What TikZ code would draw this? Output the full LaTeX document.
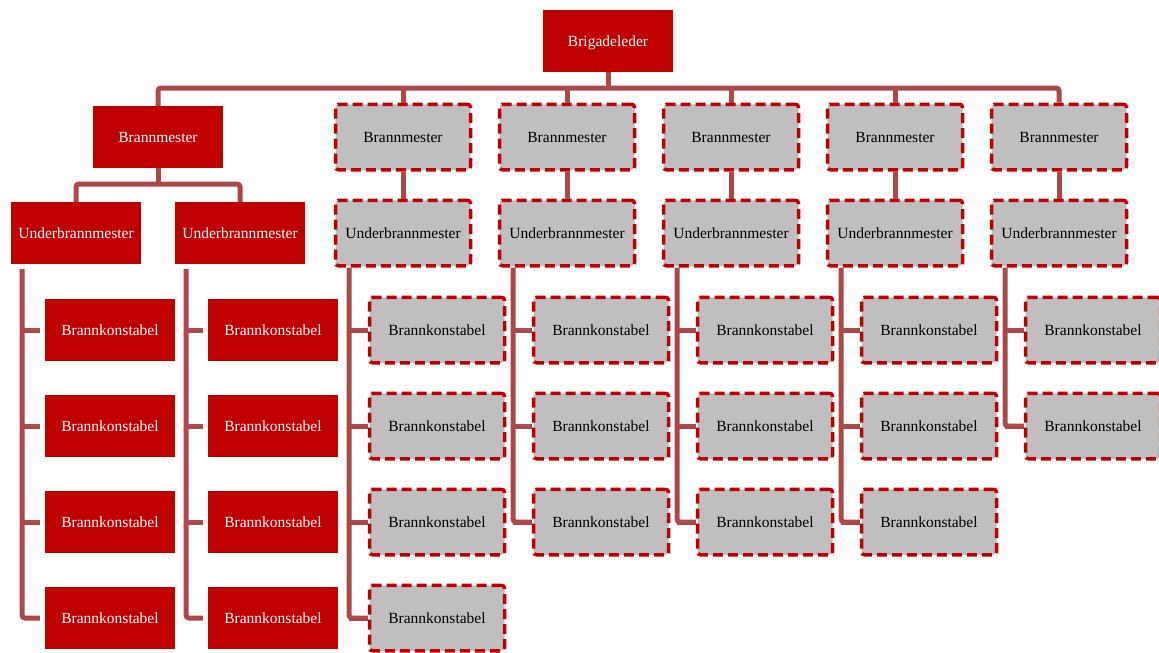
\documentclass[tikz,border=0pt]{standalone}
\usepackage{fontspec}
\setmainfont{Liberation Serif}
\definecolor{boxred}{RGB}{192,0,0}
\definecolor{boxgray}{RGB}{191,191,191}
\definecolor{linkred}{RGB}{172,72,72}
\tikzset{
  solidbox/.style={fill=boxred, text=white, draw=none, minimum width=130pt,
    minimum height=62pt, inner sep=0pt, text depth=0pt,
    font=\fontsize{15.5}{18}\selectfont},
  vacantbox/.style={fill=boxgray, text=black, draw=boxred, line width=3.5pt,
    dash pattern=on 10pt off 5pt, rounded corners=3pt, minimum width=135pt,
    minimum height=65.5pt, inner sep=0pt, text depth=0pt,
    font=\fontsize{15.5}{18}\selectfont},
  conn/.style={draw=linkred, line width=5pt},
}
\begin{document}
\begin{tikzpicture}[x=1pt, y=-1pt]
\useasboundingbox (0,0) rectangle (1159,653);

% chief
\node[solidbox] (top) at (608,41) {Brigadeleder};

% manned section
\node[solidbox] (bm0) at (158,137) {Brannmester};
\node[solidbox] (ub0a) at (76,233) {Underbrannmester};
\node[solidbox] (ub0b) at (240,233) {Underbrannmester};
\foreach \r/\y in {1/330,2/426,3/522,4/618} {
  \node[solidbox] (k0a\r) at (110,\y) {Brannkonstabel};
  \node[solidbox] (k0b\r) at (273,\y) {Brannkonstabel};
}

% vacant sections
\foreach \c/\n in {1/4,2/3,3/3,4/3,5/2} {
  \pgfmathsetmacro{\cx}{403+164*(\c-1)}
  \node[vacantbox] (bm\c) at (\cx,137) {Brannmester};
  \node[vacantbox] (ub\c) at (\cx,233) {Underbrannmester};
  \foreach \r in {1,...,\n} {
    \pgfmathsetmacro{\ry}{330+96*(\r-1)}
    \node[vacantbox] (k\c-\r) at (\cx+34,\ry) {Brannkonstabel};
  }
}

% main bus
\coordinate (bus) at (608,88);
\draw[conn, rounded corners=3pt] (bm0.north) |- (bm5 |- bus) -- (bm5.north);
\draw[conn] (top.south) -- (top |- bus);
\foreach \c in {1,...,4} {
  \draw[conn] (bm\c |- bus) -- (bm\c.north);
}

% manned section links
\coordinate (sub) at (158,184);
\draw[conn] (bm0.south) -- (bm0 |- sub);
\draw[conn, rounded corners=3pt] (ub0a.north) |- (ub0b |- sub) -- (ub0b.north);
\foreach \u in {a,b} {
  \coordinate (t0\u) at ([xshift=-54pt]ub0\u.south);
  \draw[conn, rounded corners=3pt, shorten <=5pt, shorten >=5pt] (t0\u) |- (k0\u4.west);
  \foreach \r in {1,2,3} {
    \draw[conn, shorten >=5pt] (t0\u |- k0\u\r.west) -- (k0\u\r.west);
  }
}

% vacant section links
\foreach \c/\n in {1/4,2/3,3/3,4/3,5/2} {
  \draw[conn] (bm\c.south) -- (ub\c.north);
  \coordinate (t\c) at ([xshift=-54pt]ub\c.south);
  \draw[conn, rounded corners=3pt] (t\c) |- (k\c-\n.west);
  \foreach \r in {1,...,\n} {
    \draw[conn] (t\c |- k\c-\r.west) -- (k\c-\r.west);
  }
}
\end{tikzpicture}
\end{document}
